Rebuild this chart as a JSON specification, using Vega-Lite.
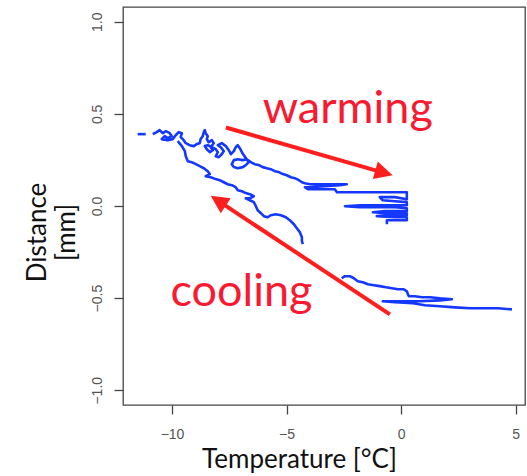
{
  "$schema": "https://vega.github.io/schema/vega-lite/v6.json",
  "width": 402,
  "height": 398,
  "autosize": {"type": "none"},
  "padding": {"left": 123, "top": 7, "right": 2, "bottom": 71},
  "background": "white",
  "config": {
    "view": {"stroke": "#444", "strokeWidth": 1.3},
    "axis": {
      "grid": false,
      "domain": false,
      "tickColor": "#444",
      "tickWidth": 1.3,
      "tickSize": 9,
      "labelColor": "#555",
      "labelFont": "Liberation Sans",
      "labelFontSize": 14,
      "titleFont": "Lato",
      "titleFontSize": 26,
      "titleFontWeight": "normal",
      "titleColor": "#111"
    }
  },
  "datasets": {
    "trace": [
      {"seg": "A0", "i": 1, "temp": -11.50, "dist": 0.390},
      {"seg": "A0", "i": 2, "temp": -11.15, "dist": 0.390},
      {"seg": "A", "i": 1, "temp": -10.84, "dist": 0.390},
      {"seg": "A", "i": 2, "temp": -10.67, "dist": 0.401},
      {"seg": "A", "i": 3, "temp": -10.54, "dist": 0.412},
      {"seg": "A", "i": 4, "temp": -10.40, "dist": 0.395},
      {"seg": "A", "i": 5, "temp": -10.27, "dist": 0.406},
      {"seg": "A", "i": 6, "temp": -10.10, "dist": 0.395},
      {"seg": "A", "i": 7, "temp": -10.01, "dist": 0.379},
      {"seg": "A", "i": 8, "temp": -10.19, "dist": 0.368},
      {"seg": "A", "i": 9, "temp": -10.32, "dist": 0.379},
      {"seg": "A", "i": 10, "temp": -10.45, "dist": 0.363},
      {"seg": "A", "i": 11, "temp": -10.19, "dist": 0.357},
      {"seg": "A", "i": 12, "temp": -9.97, "dist": 0.363},
      {"seg": "A", "i": 13, "temp": -9.84, "dist": 0.384},
      {"seg": "A", "i": 14, "temp": -9.71, "dist": 0.401},
      {"seg": "A", "i": 15, "temp": -9.57, "dist": 0.395},
      {"seg": "A", "i": 16, "temp": -9.62, "dist": 0.374},
      {"seg": "A", "i": 17, "temp": -9.49, "dist": 0.357},
      {"seg": "A", "i": 18, "temp": -9.40, "dist": 0.341},
      {"seg": "A", "i": 19, "temp": -9.23, "dist": 0.330},
      {"seg": "A", "i": 20, "temp": -9.05, "dist": 0.325},
      {"seg": "A", "i": 21, "temp": -8.92, "dist": 0.336},
      {"seg": "A", "i": 22, "temp": -8.79, "dist": 0.341},
      {"seg": "A", "i": 23, "temp": -8.75, "dist": 0.363},
      {"seg": "A", "i": 24, "temp": -8.66, "dist": 0.379},
      {"seg": "A", "i": 25, "temp": -8.61, "dist": 0.401},
      {"seg": "A", "i": 26, "temp": -8.57, "dist": 0.412},
      {"seg": "A", "i": 27, "temp": -8.53, "dist": 0.395},
      {"seg": "A", "i": 28, "temp": -8.44, "dist": 0.379},
      {"seg": "A", "i": 29, "temp": -8.48, "dist": 0.363},
      {"seg": "A", "i": 30, "temp": -8.40, "dist": 0.346},
      {"seg": "A", "i": 31, "temp": -8.26, "dist": 0.357},
      {"seg": "A", "i": 32, "temp": -8.18, "dist": 0.341},
      {"seg": "A", "i": 33, "temp": -8.31, "dist": 0.319},
      {"seg": "A", "i": 34, "temp": -8.22, "dist": 0.303},
      {"seg": "A", "i": 35, "temp": -8.35, "dist": 0.292},
      {"seg": "A", "i": 36, "temp": -8.48, "dist": 0.308},
      {"seg": "A", "i": 37, "temp": -8.57, "dist": 0.325},
      {"seg": "A", "i": 38, "temp": -8.44, "dist": 0.330},
      {"seg": "A", "i": 39, "temp": -8.26, "dist": 0.319},
      {"seg": "A", "i": 40, "temp": -8.09, "dist": 0.308},
      {"seg": "A", "i": 41, "temp": -8.00, "dist": 0.292},
      {"seg": "A", "i": 42, "temp": -8.09, "dist": 0.270},
      {"seg": "A", "i": 43, "temp": -7.96, "dist": 0.265},
      {"seg": "A", "i": 44, "temp": -7.83, "dist": 0.281},
      {"seg": "A", "i": 45, "temp": -7.74, "dist": 0.298},
      {"seg": "A", "i": 46, "temp": -7.87, "dist": 0.319},
      {"seg": "A", "i": 47, "temp": -8.00, "dist": 0.330},
      {"seg": "A", "i": 48, "temp": -7.83, "dist": 0.341},
      {"seg": "A", "i": 49, "temp": -7.65, "dist": 0.325},
      {"seg": "A", "i": 50, "temp": -7.52, "dist": 0.303},
      {"seg": "A", "i": 51, "temp": -7.43, "dist": 0.281},
      {"seg": "A", "i": 52, "temp": -7.30, "dist": 0.298},
      {"seg": "A", "i": 53, "temp": -7.22, "dist": 0.319},
      {"seg": "A", "i": 54, "temp": -7.13, "dist": 0.330},
      {"seg": "A", "i": 55, "temp": -7.04, "dist": 0.314},
      {"seg": "A", "i": 56, "temp": -6.95, "dist": 0.292},
      {"seg": "A", "i": 57, "temp": -6.87, "dist": 0.276},
      {"seg": "A", "i": 58, "temp": -6.74, "dist": 0.254},
      {"seg": "A", "i": 59, "temp": -6.65, "dist": 0.238},
      {"seg": "A", "i": 60, "temp": -6.78, "dist": 0.222},
      {"seg": "A", "i": 61, "temp": -6.91, "dist": 0.211},
      {"seg": "A", "i": 62, "temp": -7.13, "dist": 0.205},
      {"seg": "A", "i": 63, "temp": -7.30, "dist": 0.211},
      {"seg": "A", "i": 64, "temp": -7.39, "dist": 0.227},
      {"seg": "A", "i": 65, "temp": -7.30, "dist": 0.249},
      {"seg": "A", "i": 66, "temp": -7.13, "dist": 0.254},
      {"seg": "A", "i": 67, "temp": -6.91, "dist": 0.249},
      {"seg": "A", "i": 68, "temp": -6.74, "dist": 0.254},
      {"seg": "A", "i": 69, "temp": -6.56, "dist": 0.238},
      {"seg": "A", "i": 70, "temp": -6.39, "dist": 0.227},
      {"seg": "A", "i": 71, "temp": -6.21, "dist": 0.222},
      {"seg": "A", "i": 72, "temp": -6.04, "dist": 0.211},
      {"seg": "A", "i": 73, "temp": -5.86, "dist": 0.205},
      {"seg": "A", "i": 74, "temp": -5.69, "dist": 0.200},
      {"seg": "A", "i": 75, "temp": -5.51, "dist": 0.189},
      {"seg": "A", "i": 76, "temp": -5.34, "dist": 0.184},
      {"seg": "A", "i": 77, "temp": -5.16, "dist": 0.173},
      {"seg": "A", "i": 78, "temp": -4.99, "dist": 0.167},
      {"seg": "A", "i": 79, "temp": -4.81, "dist": 0.156},
      {"seg": "A", "i": 80, "temp": -4.64, "dist": 0.151},
      {"seg": "A", "i": 81, "temp": -4.46, "dist": 0.140},
      {"seg": "A", "i": 82, "temp": -4.33, "dist": 0.129},
      {"seg": "A", "i": 83, "temp": -4.20, "dist": 0.124},
      {"seg": "A", "i": 84, "temp": -3.98, "dist": 0.118},
      {"seg": "A", "i": 85, "temp": -3.55, "dist": 0.118},
      {"seg": "A", "i": 86, "temp": -2.89, "dist": 0.118},
      {"seg": "A", "i": 87, "temp": -2.37, "dist": 0.118},
      {"seg": "A", "i": 88, "temp": -2.67, "dist": 0.113},
      {"seg": "A", "i": 89, "temp": -3.33, "dist": 0.108},
      {"seg": "A", "i": 90, "temp": -3.98, "dist": 0.102},
      {"seg": "A", "i": 91, "temp": -4.20, "dist": 0.102},
      {"seg": "A", "i": 92, "temp": -4.07, "dist": 0.091},
      {"seg": "A", "i": 93, "temp": -3.55, "dist": 0.091},
      {"seg": "A", "i": 94, "temp": -2.89, "dist": 0.091},
      {"seg": "A", "i": 95, "temp": -2.80, "dist": 0.075},
      {"seg": "A", "i": 96, "temp": -1.80, "dist": 0.075},
      {"seg": "A", "i": 97, "temp": -0.71, "dist": 0.075},
      {"seg": "A", "i": 98, "temp": 0.25, "dist": 0.075},
      {"seg": "A", "i": 99, "temp": 0.25, "dist": 0.037},
      {"seg": "A", "i": 100, "temp": -0.27, "dist": 0.048},
      {"seg": "A", "i": 101, "temp": -0.93, "dist": 0.048},
      {"seg": "A", "i": 102, "temp": -0.80, "dist": 0.031},
      {"seg": "A", "i": 103, "temp": -0.27, "dist": 0.026},
      {"seg": "A", "i": 104, "temp": 0.25, "dist": 0.021},
      {"seg": "A", "i": 105, "temp": 0.25, "dist": 0.004},
      {"seg": "A", "i": 106, "temp": -0.93, "dist": 0.004},
      {"seg": "A", "i": 107, "temp": -1.80, "dist": 0.004},
      {"seg": "A", "i": 108, "temp": -2.45, "dist": -0.001},
      {"seg": "A", "i": 109, "temp": -1.80, "dist": -0.007},
      {"seg": "A", "i": 110, "temp": -0.27, "dist": -0.007},
      {"seg": "A", "i": 111, "temp": 0.25, "dist": -0.012},
      {"seg": "A", "i": 112, "temp": 0.25, "dist": -0.028},
      {"seg": "A", "i": 113, "temp": -0.71, "dist": -0.028},
      {"seg": "A", "i": 114, "temp": -1.23, "dist": -0.034},
      {"seg": "A", "i": 115, "temp": -0.71, "dist": -0.039},
      {"seg": "A", "i": 116, "temp": 0.25, "dist": -0.039},
      {"seg": "A", "i": 117, "temp": 0.25, "dist": -0.050},
      {"seg": "A", "i": 118, "temp": -0.49, "dist": -0.050},
      {"seg": "A", "i": 119, "temp": -1.06, "dist": -0.055},
      {"seg": "A", "i": 120, "temp": -0.27, "dist": -0.061},
      {"seg": "A", "i": 121, "temp": 0.25, "dist": -0.061},
      {"seg": "A", "i": 122, "temp": 0.25, "dist": -0.077},
      {"seg": "A", "i": 123, "temp": -0.27, "dist": -0.077},
      {"seg": "A", "i": 124, "temp": -0.62, "dist": -0.077},
      {"seg": "A", "i": 125, "temp": -0.62, "dist": -0.099},
      {"seg": "B", "i": 1, "temp": -9.75, "dist": 0.352},
      {"seg": "B", "i": 2, "temp": -9.57, "dist": 0.325},
      {"seg": "B", "i": 3, "temp": -9.44, "dist": 0.298},
      {"seg": "B", "i": 4, "temp": -9.40, "dist": 0.270},
      {"seg": "B", "i": 5, "temp": -9.31, "dist": 0.243},
      {"seg": "B", "i": 6, "temp": -9.14, "dist": 0.238},
      {"seg": "B", "i": 7, "temp": -8.96, "dist": 0.227},
      {"seg": "B", "i": 8, "temp": -8.79, "dist": 0.216},
      {"seg": "B", "i": 9, "temp": -8.61, "dist": 0.205},
      {"seg": "B", "i": 10, "temp": -8.44, "dist": 0.189},
      {"seg": "B", "i": 11, "temp": -8.35, "dist": 0.173},
      {"seg": "B", "i": 12, "temp": -8.53, "dist": 0.162},
      {"seg": "B", "i": 13, "temp": -8.31, "dist": 0.156},
      {"seg": "B", "i": 14, "temp": -8.09, "dist": 0.146},
      {"seg": "B", "i": 15, "temp": -7.92, "dist": 0.140},
      {"seg": "B", "i": 16, "temp": -7.74, "dist": 0.129},
      {"seg": "B", "i": 17, "temp": -7.57, "dist": 0.118},
      {"seg": "B", "i": 18, "temp": -7.39, "dist": 0.113},
      {"seg": "B", "i": 19, "temp": -7.22, "dist": 0.102},
      {"seg": "B", "i": 20, "temp": -7.13, "dist": 0.086},
      {"seg": "B", "i": 21, "temp": -6.95, "dist": 0.080},
      {"seg": "B", "i": 22, "temp": -6.78, "dist": 0.070},
      {"seg": "B", "i": 23, "temp": -6.60, "dist": 0.064},
      {"seg": "B", "i": 24, "temp": -6.43, "dist": 0.053},
      {"seg": "B", "i": 25, "temp": -6.60, "dist": 0.042},
      {"seg": "B", "i": 26, "temp": -6.78, "dist": 0.042},
      {"seg": "B", "i": 27, "temp": -6.60, "dist": 0.031},
      {"seg": "B", "i": 28, "temp": -6.43, "dist": 0.021},
      {"seg": "B", "i": 29, "temp": -6.34, "dist": -0.001},
      {"seg": "B", "i": 30, "temp": -6.26, "dist": -0.023},
      {"seg": "B", "i": 31, "temp": -6.12, "dist": -0.039},
      {"seg": "B", "i": 32, "temp": -5.99, "dist": -0.055},
      {"seg": "B", "i": 33, "temp": -5.82, "dist": -0.061},
      {"seg": "B", "i": 34, "temp": -5.69, "dist": -0.050},
      {"seg": "B", "i": 35, "temp": -5.47, "dist": -0.045},
      {"seg": "B", "i": 36, "temp": -5.25, "dist": -0.050},
      {"seg": "B", "i": 37, "temp": -5.03, "dist": -0.061},
      {"seg": "B", "i": 38, "temp": -4.86, "dist": -0.077},
      {"seg": "B", "i": 39, "temp": -4.68, "dist": -0.099},
      {"seg": "B", "i": 40, "temp": -4.55, "dist": -0.121},
      {"seg": "B", "i": 41, "temp": -4.42, "dist": -0.142},
      {"seg": "B", "i": 42, "temp": -4.33, "dist": -0.169},
      {"seg": "B", "i": 43, "temp": -4.33, "dist": -0.191},
      {"seg": "B", "i": 44, "temp": -4.29, "dist": -0.207},
      {"seg": "C", "i": 1, "temp": -2.59, "dist": -0.392},
      {"seg": "C", "i": 2, "temp": -2.45, "dist": -0.381},
      {"seg": "C", "i": 3, "temp": -2.24, "dist": -0.381},
      {"seg": "C", "i": 4, "temp": -2.06, "dist": -0.392},
      {"seg": "C", "i": 5, "temp": -1.89, "dist": -0.408},
      {"seg": "C", "i": 6, "temp": -1.67, "dist": -0.414},
      {"seg": "C", "i": 7, "temp": -1.45, "dist": -0.425},
      {"seg": "C", "i": 8, "temp": -1.19, "dist": -0.430},
      {"seg": "C", "i": 9, "temp": -0.93, "dist": -0.435},
      {"seg": "C", "i": 10, "temp": -0.66, "dist": -0.441},
      {"seg": "C", "i": 11, "temp": -0.40, "dist": -0.446},
      {"seg": "C", "i": 12, "temp": -0.14, "dist": -0.452},
      {"seg": "C", "i": 13, "temp": 0.12, "dist": -0.452},
      {"seg": "C", "i": 14, "temp": 0.25, "dist": -0.463},
      {"seg": "C", "i": 15, "temp": 0.30, "dist": -0.479},
      {"seg": "C", "i": 16, "temp": 0.34, "dist": -0.490},
      {"seg": "C", "i": 17, "temp": 0.60, "dist": -0.490},
      {"seg": "C", "i": 18, "temp": 0.91, "dist": -0.495},
      {"seg": "C", "i": 19, "temp": 1.26, "dist": -0.495},
      {"seg": "C", "i": 20, "temp": 1.69, "dist": -0.501},
      {"seg": "C", "i": 21, "temp": 2.22, "dist": -0.506},
      {"seg": "C", "i": 22, "temp": 1.69, "dist": -0.512},
      {"seg": "C", "i": 23, "temp": 0.82, "dist": -0.517},
      {"seg": "C", "i": 24, "temp": -0.05, "dist": -0.517},
      {"seg": "C", "i": 25, "temp": -0.80, "dist": -0.517},
      {"seg": "C", "i": 26, "temp": -0.27, "dist": -0.522},
      {"seg": "C", "i": 27, "temp": 0.52, "dist": -0.528},
      {"seg": "C", "i": 28, "temp": 1.04, "dist": -0.539},
      {"seg": "C", "i": 29, "temp": 1.69, "dist": -0.544},
      {"seg": "C", "i": 30, "temp": 2.35, "dist": -0.550},
      {"seg": "C", "i": 31, "temp": 3.01, "dist": -0.555},
      {"seg": "C", "i": 32, "temp": 3.66, "dist": -0.555},
      {"seg": "C", "i": 33, "temp": 4.23, "dist": -0.555},
      {"seg": "C", "i": 34, "temp": 4.84, "dist": -0.561}
    ],
    "arrows": [
      {"name": "warming", "temp": -7.65, "dist": 0.426, "temp2": -0.96, "dist2": 0.188},
      {"name": "cooling", "temp": -0.49, "dist": -0.588, "temp2": -7.80, "dist2": 0.013}
    ],
    "labels": [
      {"name": "warming", "temp": -6.04, "dist": 0.450},
      {"name": "cooling", "temp": -10.07, "dist": -0.542}
    ]
  },
  "layer": [
    {
      "data": {"name": "trace"},
      "mark": {"type": "line", "color": "#1438ff", "strokeWidth": 2.6, "strokeJoin": "round"},
      "encoding": {
        "x": {
          "field": "temp", "type": "quantitative",
          "scale": {"domain": [-12.14, 5.41], "nice": false, "zero": false},
          "axis": {
            "values": [-10, -5, 0, 5], "format": "d",
            "labelPadding": 13,
            "title": "Temperature [°C]",
            "titleX": 176, "titleY": 62, "titleAlign": "center", "titleBaseline": "alphabetic",
            "titleAnchor": null
          }
        },
        "y": {
          "field": "dist", "type": "quantitative",
          "scale": {"domain": [-1.08, 1.08], "nice": false, "zero": false},
          "axis": {
            "values": [-1, -0.5, 0, 0.5, 1], "format": ".1f",
            "labelAngle": -90, "labelAlign": "center", "labelBaseline": "bottom",
            "labelPadding": 10,
            "title": ["Distance", "[mm]"],
            "titleAngle": -90, "titleX": -78, "titleY": 225,
            "titleAlign": "center", "titleBaseline": "alphabetic",
            "titleLineHeight": 29, "titleAnchor": null
          }
        },
        "detail": {"field": "seg"},
        "order": {"field": "i", "type": "quantitative"}
      }
    },
    {
      "data": {"name": "arrows"},
      "mark": {"type": "rule", "color": "#ff1e1e", "strokeWidth": 4},
      "encoding": {
        "x": {"field": "temp", "type": "quantitative"},
        "y": {"field": "dist", "type": "quantitative"},
        "x2": {"field": "temp2"},
        "y2": {"field": "dist2"}
      }
    },
    {
      "data": {"values": [{"name": "warming", "temp": -0.37, "dist": 0.167}]},
      "mark": {"type": "point", "shape": "M0,0L-0.5,1L0.5,1Z", "filled": true, "color": "#ff1e1e", "opacity": 1, "size": 1296, "angle": 106},
      "encoding": {
        "x": {"field": "temp", "type": "quantitative"},
        "y": {"field": "dist", "type": "quantitative"}
      }
    },
    {
      "data": {"values": [{"name": "cooling", "temp": -8.31, "dist": 0.055}]},
      "mark": {"type": "point", "shape": "M0,0L-0.5,1L0.5,1Z", "filled": true, "color": "#ff1e1e", "opacity": 1, "size": 1296, "angle": 303.5},
      "encoding": {
        "x": {"field": "temp", "type": "quantitative"},
        "y": {"field": "dist", "type": "quantitative"}
      }
    },
    {
      "data": {"name": "labels"},
      "mark": {"type": "text", "font": "Lato", "fontSize": 45, "color": "#f71a30", "align": "left", "baseline": "alphabetic"},
      "encoding": {
        "x": {"field": "temp", "type": "quantitative"},
        "y": {"field": "dist", "type": "quantitative"},
        "text": {"field": "name"}
      }
    }
  ]
}
